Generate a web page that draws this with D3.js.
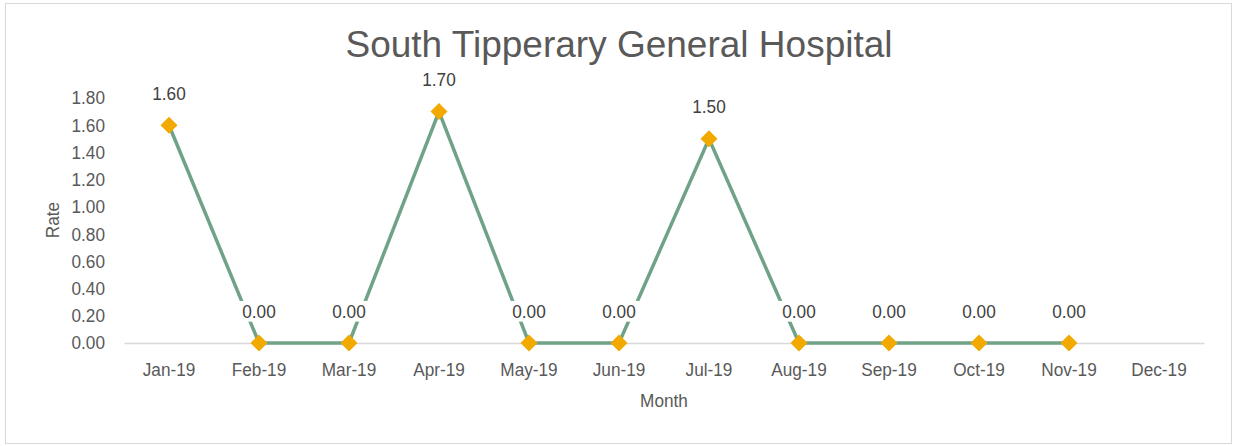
<!DOCTYPE html>
<html><head><meta charset="utf-8">
<script src="https://cdn.jsdelivr.net/npm/d3@7"></script>
<style>body{margin:0;background:#fff}</style>
</head><body><svg id="c" width="1238" height="446"></svg>
<script>
const categories = ["Jan-19","Feb-19","Mar-19","Apr-19","May-19","Jun-19","Jul-19","Aug-19","Sep-19","Oct-19","Nov-19","Dec-19"];
const rates = [1.60,0.00,0.00,1.70,0.00,0.00,1.50,0.00,0.00,0.00,0.00,null];
const yTicks = [0,0.2,0.4,0.6,0.8,1.0,1.2,1.4,1.6,1.8];
const titleText = "South Tipperary General Hospital";
const xTitle = "Month", yTitle = "Rate";

const svg = d3.select("#c");
const font = "'Liberation Sans',Arial,sans-serif";
const FS = 18.5, SX = 0.93;
svg.append("rect").attr("x",5.5).attr("y",3.5).attr("width",1226).attr("height",440)
  .attr("fill","#fff").attr("stroke","#d9d9d9");

const x = d3.scaleBand().domain(categories).range([124,1204]);
const y = d3.scaleLinear().domain([0,1.8]).range([343,98]);

svg.append("text").attr("x",619).attr("y",57).attr("text-anchor","middle")
  .attr("font-family",font).attr("font-size",37)
  .attr("fill","#595959").text(titleText);

// y axis
const ya = svg.append("g").attr("transform","translate(105,0)")
  .call(d3.axisLeft(y).tickValues(yTicks).tickFormat(d3.format(".2f")).tickSize(0).tickPadding(0));
ya.select(".domain").remove();
ya.selectAll("text").attr("font-family",font).attr("font-size",FS).attr("fill","#595959")
  .attr("transform",`scale(${SX},1)`);

// x axis
const xa = svg.append("g").attr("transform","translate(0,343)")
  .call(d3.axisBottom(x).tickSize(0).tickPadding(20));
xa.select(".domain").attr("stroke","#d9d9d9").attr("stroke-width",1.5);
xa.selectAll("text").attr("font-family",font).attr("font-size",FS).attr("fill","#595959")
  .attr("transform",`scale(${SX},1)`);

svg.append("text").attr("transform",`translate(664,407) scale(${SX},1)`).attr("text-anchor","middle")
  .attr("font-family",font).attr("font-size",FS).attr("fill","#595959").text(xTitle);
svg.append("text").attr("transform",`translate(59,220) rotate(-90) scale(${SX},1)`).attr("text-anchor","middle")
  .attr("font-family",font).attr("font-size",FS).attr("fill","#595959").text(yTitle);

const pts = categories.map((c,i)=>({c, v:rates[i]})).filter(d=>d.v!==null);
const cx = d => x(d.c)+x.bandwidth()/2;
svg.append("path").datum(pts).attr("fill","none").attr("stroke","#70a288").attr("stroke-width",3.5)
  .attr("d", d3.line().x(cx).y(d=>y(d.v)));

// label backgrounds + labels
const lg = svg.append("g");
pts.forEach(d=>{
  const g = lg.append("g").attr("transform",`translate(${cx(d)},${y(d.v)-25.5}) scale(${SX},1)`);
  const t = g.append("text").attr("text-anchor","middle")
    .attr("font-family",font).attr("font-size",FS).attr("fill","#404040").text(d3.format(".2f")(d.v));
  const b = t.node().getBBox();
  g.insert("rect","text").attr("x",b.x-4).attr("y",b.y).attr("width",b.width+8).attr("height",b.height).attr("fill","#fff");
});

svg.append("g").selectAll("path").data(pts).join("path")
  .attr("transform",d=>`translate(${cx(d)},${y(d.v)})`)
  .attr("d","M0,-8.5L8.5,0L0,8.5L-8.5,0Z").attr("fill","#f2a900");
</script></body></html>
